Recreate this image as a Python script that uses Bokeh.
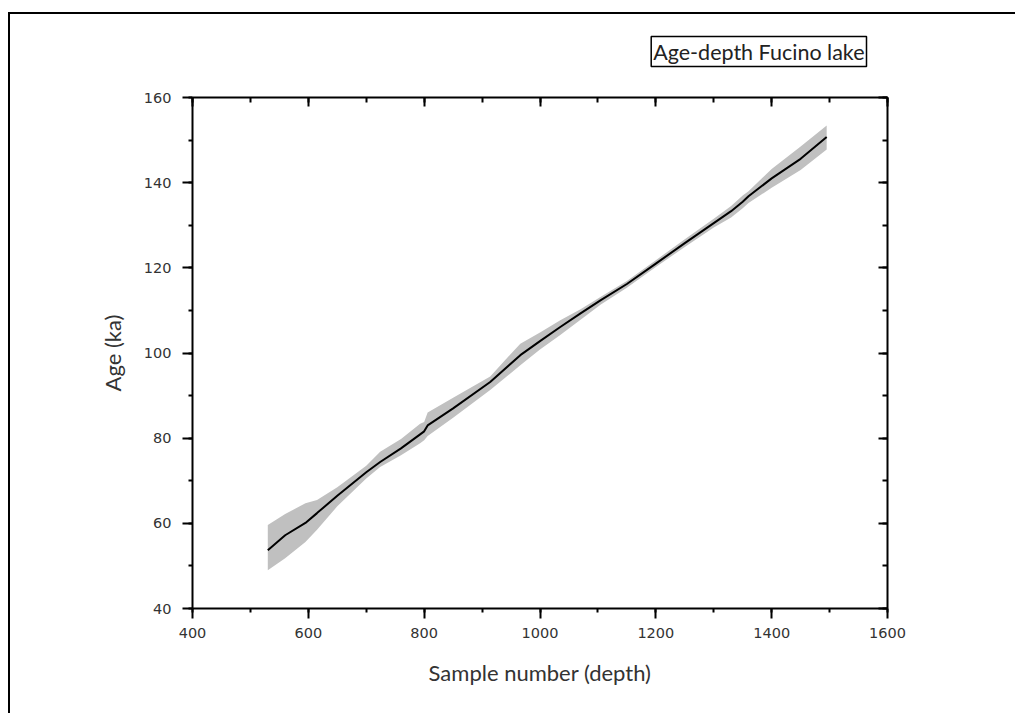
from bokeh.plotting import figure
from bokeh.models import LinearAxis, Range1d, SingleIntervalTicker, CustomJSTickFormatter, Title
from bokeh.embed import file_html
from bokeh.resources import INLINE

# ---- data ----
depth = [530, 560, 595, 615, 650, 700, 724, 760, 793, 800, 806, 850, 914, 966, 1000,
         1035, 1070, 1105, 1150, 1200, 1250, 1300, 1330, 1350, 1360, 1400, 1450, 1495]
age = [53.7, 57.2, 60.1, 62.4, 66.5, 72.0, 74.4, 77.6, 80.9, 81.6, 83.0, 87.0, 93.2, 99.5, 102.8,
       106.1, 109.3, 112.4, 116.2, 121.0, 125.8, 130.5, 133.3, 135.5, 136.8, 141.0, 145.6, 150.7]
upper = [59.6, 62.2, 64.7, 65.5, 68.5, 73.5, 76.8, 79.8, 83.4, 83.8, 86.0, 89.5, 94.5, 102.2, 104.8,
         107.7, 110.3, 113.2, 116.9, 121.8, 126.7, 131.5, 134.5, 137.0, 138.0, 143.2, 148.5, 153.4]
lower = [49.0, 51.8, 55.6, 58.5, 64.0, 70.5, 73.2, 76.0, 78.8, 79.5, 80.5, 84.8, 91.3, 97.1, 100.8,
         104.2, 107.8, 111.4, 115.3, 120.2, 124.9, 129.5, 131.8, 134.0, 135.2, 138.8, 143.0, 147.8]

title_text = "Age-depth Fucino lake"
x_label = "Sample number (depth)"
y_label = "Age (ka)"

LABEL_FONT = "Lato"
TICK_FONT = "DejaVu Sans"

p = figure(frame_width=695, frame_height=511,
           x_range=Range1d(400, 1600), y_range=Range1d(40, 160),
           output_backend="svg", toolbar_location=None,
           min_border_left=184, min_border_right=128,
           min_border_top=97, min_border_bottom=105,
           background_fill_color="white", border_fill_color="white",
           border_fill_alpha=0.0, outline_line_color=None)
p.styles = {
    "background": ("linear-gradient(#000, #000) 0px 12px / 100% 2px no-repeat, "
                   "linear-gradient(#000, #000) 0px 12px / 2px 100% no-repeat, #fff"),
    "margin-left": "8px",
}
p.grid.visible = False

p.varea(x=depth, y1=lower, y2=upper, fill_color="#c0c0c0", fill_alpha=1.0)
p.line(depth, age, line_color="black", line_width=2)

xt = SingleIntervalTicker(interval=200, num_minor_ticks=2)
yt = SingleIntervalTicker(interval=20, num_minor_ticks=2)


def style_axis(ax, labelled):
    ax.axis_line_color = "black"
    ax.axis_line_width = 2
    ax.major_tick_line_color = "black"
    ax.major_tick_line_width = 2
    ax.minor_tick_line_color = "black"
    ax.minor_tick_line_width = 2
    if labelled:
        ax.major_tick_out = 10
        ax.major_tick_in = 0
        ax.minor_tick_out = 4
        ax.minor_tick_in = 0
        ax.major_label_text_font = TICK_FONT
        ax.major_label_text_font_size = "14.5px"
        ax.major_label_text_color = "#333333"
        ax.axis_label_text_font = LABEL_FONT
        ax.axis_label_text_font_size = "22px"
        ax.axis_label_text_font_style = "normal"
        ax.axis_label_text_color = "#333333"
    else:
        ax.major_tick_out = 0
        ax.major_tick_in = 9
        ax.minor_tick_out = 0
        ax.minor_tick_in = 5
        ax.formatter = CustomJSTickFormatter(code="return ''")
        ax.major_label_standoff = 0


p.xaxis.ticker = xt
p.yaxis.ticker = yt
style_axis(p.xaxis[0], True)
style_axis(p.yaxis[0], True)
p.xaxis.axis_label = x_label
p.yaxis.axis_label = y_label
p.xaxis.major_label_standoff = 9
p.yaxis.major_label_standoff = 11
p.xaxis.axis_label_standoff = 18
p.yaxis.axis_label_standoff = 15

top_ax = LinearAxis(ticker=xt)
right_ax = LinearAxis(ticker=yt)
style_axis(top_ax, False)
style_axis(right_ax, False)
p.add_layout(top_ax, "above")
p.add_layout(right_ax, "right")

ttl = Title(text=title_text, align="right", offset=21, standoff=62,
            text_font=LABEL_FONT, text_font_size="21.5px", text_color="#222222",
            text_font_style="normal",
            border_line_color="black", border_line_width=1.5,
            background_fill_color="white", padding=2)
p.add_layout(ttl, "above")

open("out.html", "w").write(file_html(p, INLINE))
